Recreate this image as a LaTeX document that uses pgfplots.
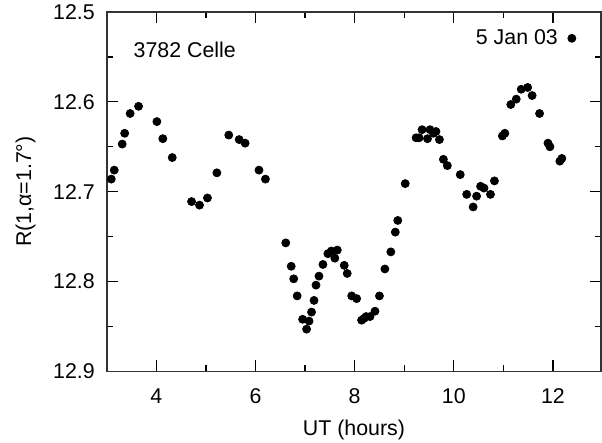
\documentclass[border=0pt]{standalone}
\usepackage{pgfplots}
\pgfplotsset{compat=1.18}
\usepackage{fontspec}
\setmainfont{Liberation Sans}

\begin{document}
\begin{tikzpicture}
    \begin{axis}[
            name=ax,
            scale only axis,
            width=247.5pt,
            height=180pt,
            clip=false,
            xmin=3, xmax=12.97,
            ymin=12.5, ymax=12.9,
            y dir=reverse,
            xtick={4,6,8,10,12},
            minor xtick={3,5,7,9,11},
            ytick={12.5,12.6,12.7,12.8,12.9},
            minor ytick={12.55,12.65,12.75,12.85},
            yticklabel style={/pgf/number format/.cd, fixed, fixed zerofill, precision=1},
            tick align=inside,
            major tick length=5.5pt,
            minor tick length=3pt,
            tick style={black, line width=0.6pt},
            axis line style={black!80, line width=0.7pt},
            /pgf/number format/assume math mode=true,
            tick label style={font=\fontsize{10.7}{12}\selectfont},
            label style={font=\fontsize{10.7}{12}\selectfont},
            xticklabel shift=5pt,
            yticklabel shift=2.5pt,
            xlabel={UT (hours)},
            ylabel={R(1,α=1.7°)},
            ylabel shift=2pt,
            xlabel shift=1.5pt,
            legend plot pos=right,
            legend style={draw=none, fill=none, font=\fontsize{10.7}{12}\selectfont,
                at={(rel axis cs:0.962,0.975)}, anchor=north east, /tikz/column sep=3pt},
            legend cell align=right,
        ]
        \addplot[only marks, mark=*, mark size=2pt, black] coordinates {
            (3.09,12.686) (3.15,12.676) (3.31,12.647) (3.36,12.635) (3.47,12.613)
            (3.64,12.605) (4.01,12.622) (4.13,12.641) (4.32,12.662) (4.71,12.711)
            (4.87,12.715) (5.03,12.707) (5.22,12.679) (5.46,12.637) (5.67,12.642)
            (5.79,12.646) (6.07,12.676) (6.20,12.686)
            (6.61,12.757) (6.72,12.783) (6.77,12.797) (6.84,12.816) (6.95,12.842)
            (7.03,12.853) (7.08,12.844) (7.13,12.834) (7.18,12.821) (7.22,12.804)
            (7.28,12.794) (7.36,12.781) (7.46,12.769) (7.53,12.766) (7.60,12.774)
            (7.65,12.765) (7.79,12.782) (7.85,12.791) (7.94,12.816) (8.04,12.819)
            (8.14,12.843) (8.19,12.841) (8.23,12.839) (8.31,12.839) (8.41,12.833)
            (8.50,12.816) (8.61,12.786) (8.73,12.767) (8.82,12.745) (8.87,12.732)
            (9.02,12.691)
            (9.24,12.640) (9.30,12.640) (9.36,12.631) (9.47,12.641) (9.52,12.631)
            (9.59,12.635) (9.64,12.633) (9.71,12.642) (9.79,12.664) (9.87,12.671)
            (10.13,12.681) (10.26,12.703) (10.39,12.717) (10.46,12.705) (10.54,12.694)
            (10.61,12.696) (10.74,12.703) (10.82,12.688) (10.98,12.638) (11.03,12.635)
            (11.15,12.603) (11.26,12.597) (11.36,12.586) (11.49,12.584) (11.58,12.593)
            (11.73,12.613) (11.90,12.646) (11.94,12.650) (12.14,12.666) (12.18,12.663)
        };
        \addlegendentry{5 Jan 03}
        \node[anchor=west, font=\fontsize{10.7}{12}\selectfont] at (axis cs:3.4,12.542) {3782 Celle};
    \end{axis}
    % page frame as in the reference
    \pgfresetboundingbox
    \path[use as bounding box] ([xshift=-53.5pt,yshift=-35.5pt]ax.south west) rectangle ([xshift=0.5pt,yshift=6pt]ax.north east);
\end{tikzpicture}
\end{document}
